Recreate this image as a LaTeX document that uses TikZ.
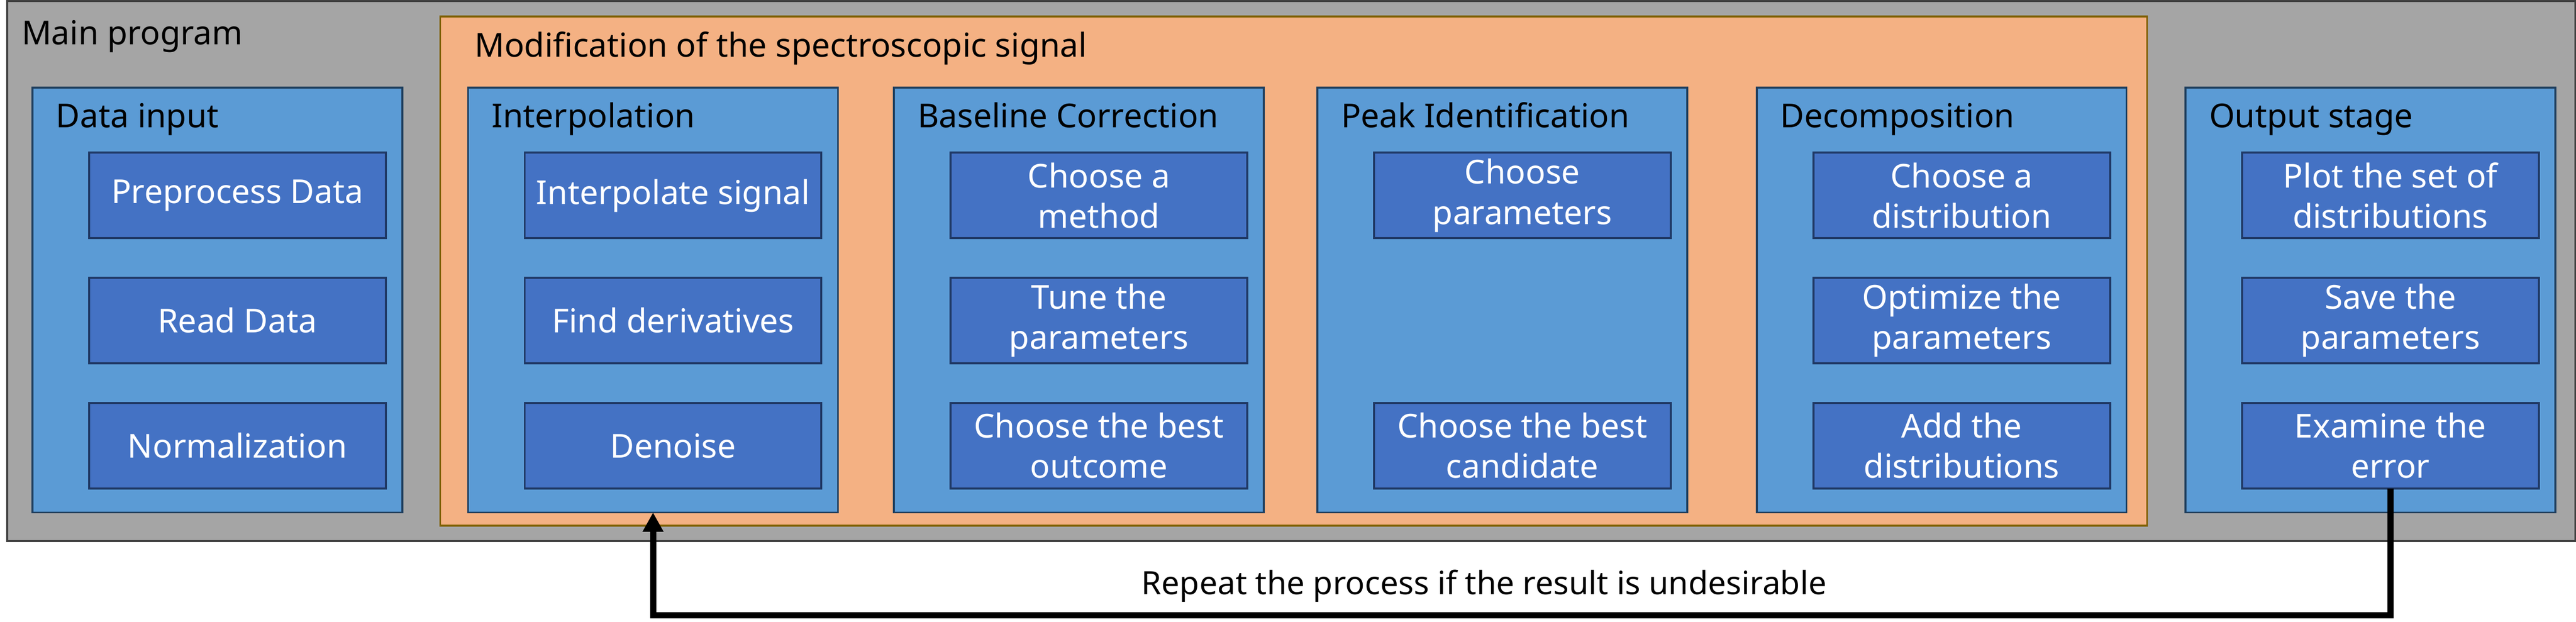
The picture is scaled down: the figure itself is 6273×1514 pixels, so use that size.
\documentclass[tikz,border=0pt]{standalone}
\usepackage{fontspec}
\setmainfont{Noto Sans}
\usepackage{xcolor}
\usepackage{tikz}
\usetikzlibrary{arrows.meta,positioning}
\definecolor{mainfill}{HTML}{A5A5A5}
\definecolor{maindraw}{HTML}{404040}
\definecolor{modfill}{HTML}{F4B183}
\definecolor{moddraw}{HTML}{7F6000}
\definecolor{groupfill}{HTML}{5B9BD5}
\definecolor{groupdraw}{HTML}{203F5E}
\definecolor{taskfill}{HTML}{4472C4}
\definecolor{taskdraw}{HTML}{1F3864}

\begin{document}
\begin{tikzpicture}[x=0.01cm, y=-0.01cm,
    txt/.style={font=\fontsize{22.8}{27.9}\selectfont},
    title/.style={txt, anchor=base west, inner sep=0},
    mainbox/.style={rectangle, draw=maindraw, fill=mainfill, line width=0.05cm, anchor=north west, inner sep=0, outer sep=0, minimum width=62.51cm, minimum height=13.14cm},
    modbox/.style={rectangle, draw=moddraw, fill=modfill, line width=0.045cm, anchor=north west, inner sep=0, outer sep=0, minimum width=41.54cm, minimum height=12.39cm},
    group/.style={rectangle, draw=groupdraw, fill=groupfill, line width=0.045cm, anchor=north west, inner sep=0, outer sep=0, minimum width=9cm, minimum height=10.34cm},
    task/.style={rectangle, draw=taskdraw, fill=taskfill, line width=0.05cm, txt, text=white, align=center, inner sep=0, outer sep=0, minimum width=7.22cm, minimum height=2.08cm},
    arrow/.style={-{Triangle[width=0.48cm, length=0.47cm]}, line width=0.15cm}
]
    \useasboundingbox (0,0) rectangle (6273,1514);

    \node[mainbox] (main) at (17,3) {};
    \node[title] (mainT) at (52,109) {Main program};
    \node[modbox] (mod) at (1072,40) {};
    \node[title] (modT) at (1155,138) {Modification of the spectroscopic signal};

    % stage containers
    \node[group] (input) at (79,213) {};
    \node[group] (interp) at (1140,213) {};
    \node[group] (baseline) at (2177,213) {};
    \node[group] (peak) at (3208,213) {};
    \node[group] (decomp) at (4278,213) {};
    \node[group] (output) at (5322,213) {};

    \node[title] (inputT) at (136,311) {Data input};
    \node[title] (interpT) at (1197,311) {Interpolation};
    \node[title] (baselineT) at (2234,311) {Baseline Correction};
    \node[title] (peakT) at (3265,311) {Peak Identification};
    \node[title] (decompT) at (4335,311) {Decomposition};
    \node[title] (outputT) at (5379,311) {Output stage};

    % tasks
    \node[task] (preprocess) at (578,476) {Preprocess Data};
    \node[task] (read) at (578,780) {Read Data};
    \node[task] (normalize) at (578,1085) {Normalization};

    \node[task] (interpolate) at (1639,476) {Interpolate signal};
    \node[task] (derivatives) at (1639,780) {Find derivatives};
    \node[task] (denoise) at (1639,1085) {Denoise};

    \node[task] (method) at (2676,476) {Choose a\\method};
    \node[task] (tune) at (2676,780) {Tune the\\parameters};
    \node[task] (outcome) at (2676,1085) {Choose the best\\outcome};

    \node[task] (peakpar) at (3707,476) {Choose\\parameters};
    \node[task] (candidate) at (3707,1085) {Choose the best\\candidate};

    \node[task] (distribution) at (4777,476) {Choose a\\distribution};
    \node[task] (optimize) at (4777,780) {Optimize the\\parameters};
    \node[task] (add) at (4777,1085) {Add the\\distributions};

    \node[task] (plot) at (5821,476) {Plot the set of\\distributions};
    \node[task] (save) at (5821,780) {Save the\\parameters};
    \node[task] (examine) at (5821,1085) {Examine the\\error};

    % feedback loop
    \draw[arrow] (examine.south) -- ++(0,309) -| (interp.south);
    \node[font=\fontsize{22.2}{27}\selectfont, anchor=base, inner sep=0] (repeat) at (3614,1447) {Repeat the process if the result is undesirable};
\end{tikzpicture}
\end{document}
